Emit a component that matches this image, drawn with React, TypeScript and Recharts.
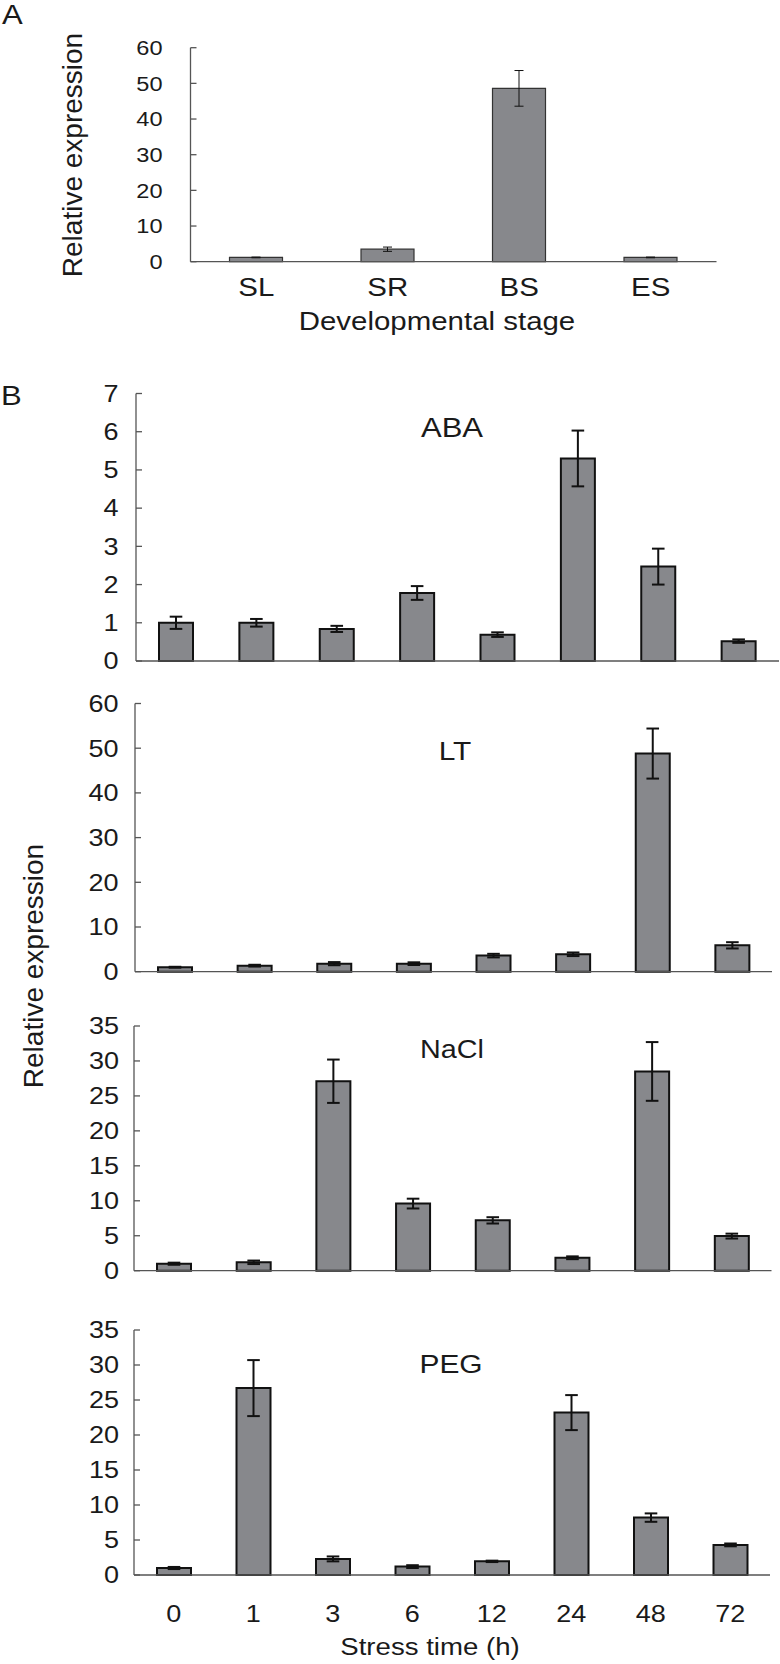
import React from "react";
import { BarChart, Bar, XAxis, YAxis, ErrorBar } from "recharts";

const FONT = "'Liberation Sans', Arial, sans-serif";
const INK = "#1a1a1a";
const AXIS = "#555555";
const FILL = "#87888c";
const SX = 1.15; // the original lettering is a little wider than Arial

// panel A: developmental stages
const stages = ["SL", "SR", "BS", "ES"];
const stageMean = [1.2, 3.5, 48.6, 1.2];
const stageErr = [0.1, 0.6, 5.0, 0.1];
const stageTicks = [0, 10, 20, 30, 40, 50, 60];

// panel B: stress time course
const hours = ["0", "1", "3", "6", "12", "24", "48", "72"];
const abaMean = [1.0, 1.0, 0.84, 1.78, 0.69, 5.3, 2.47, 0.52];
const abaErr = [0.16, 0.1, 0.08, 0.18, 0.06, 0.73, 0.47, 0.045];
const abaTicks = [0, 1, 2, 3, 4, 5, 6, 7];
const ltMean = [1.0, 1.35, 1.8, 1.8, 3.6, 3.9, 48.8, 5.9];
const ltErr = [0.1, 0.2, 0.35, 0.3, 0.4, 0.4, 5.6, 0.7];
const ltTicks = [0, 10, 20, 30, 40, 50, 60];
const naclMean = [1.0, 1.2, 27.1, 9.6, 7.2, 1.85, 28.5, 4.95];
const naclErr = [0.15, 0.25, 3.1, 0.7, 0.45, 0.2, 4.2, 0.35];
const naclTicks = [0, 5, 10, 15, 20, 25, 30, 35];
const pegMean = [1.0, 26.7, 2.3, 1.2, 1.95, 23.2, 8.2, 4.3];
const pegErr = [0.15, 4.0, 0.35, 0.2, 0.1, 2.5, 0.6, 0.2];
const pegTicks = [0, 5, 10, 15, 20, 25, 30, 35];

function Wide(props: { x: number; y: number; size: number; anchor?: string; dy?: string; children: React.ReactNode }) {
  return (
    <text
      transform={`translate(${props.x},${props.y}) scale(${SX},1)`}
      textAnchor={props.anchor || "middle"}
      dy={props.dy}
      fontSize={props.size}
      fill={INK}
      fontFamily={FONT}
    >
      {props.children}
    </text>
  );
}

type PanelProps = {
  labels: string[];
  mean: number[];
  err: number[];
  ticks: number[];
  top: number;
  height: number;
  plotTop: number;
  plotBottom: number;
  left: number;
  right: number;
  barSize: number;
  thin?: boolean;
  showLabels?: boolean;
  yFont: number;
  xFont: number;
  yMargin: number;
  xMargin: number;
  tickLen: number;
};

function Panel(p: PanelProps) {
  const data = p.labels.map((name, i) => ({ name, value: p.mean[i], err: p.err[i] }));
  const n = p.labels.length;
  const edges = p.labels.map((_, i) => i + 1);
  const lineW = p.thin ? 1 : 2;
  return (
    <div style={{ position: "absolute", left: 0, top: p.top }}>
      <BarChart
        width={780}
        height={p.height}
        data={data}
        margin={{
          top: p.plotTop - p.top,
          right: 780 - p.right,
          bottom: p.height - (p.plotBottom - p.top) - 2,
          left: 0,
        }}
      >
        <XAxis
          xAxisId="edge"
          type="number"
          domain={[0, n]}
          ticks={edges}
          interval={0}
          height={1}
          axisLine={false}
          tick={false}
          tickSize={-p.tickLen}
          tickLine={{ stroke: AXIS, strokeWidth: 1.3 }}
        />
        <XAxis
          xAxisId="cat"
          dataKey="name"
          height={1}
          interval={0}
          axisLine={{ stroke: AXIS, strokeWidth: 1.3 }}
          tickLine={false}
          tickSize={0}
          tickMargin={p.xMargin}
          tick={
            p.showLabels
              ? (t: any) => (
                  <Wide x={t.x} y={t.y} size={p.xFont} dy="0.71em">
                    {t.payload.value}
                  </Wide>
                )
              : false
          }
        />
        <YAxis
          width={p.left}
          domain={[0, p.ticks[p.ticks.length - 1]]}
          ticks={p.ticks}
          interval={0}
          tickSize={-6}
          tickMargin={p.yMargin}
          axisLine={{ stroke: AXIS, strokeWidth: 1.3 }}
          tickLine={{ stroke: AXIS, strokeWidth: 1.3 }}
          tick={(t: any) => (
            <Wide x={t.x} y={t.y} size={p.yFont} anchor="end" dy="0.355em">
              {t.payload.value}
            </Wide>
          )}
        />
        <Bar
          xAxisId="cat"
          dataKey="value"
          fill={FILL}
          stroke={p.thin ? "#333" : "#111"}
          strokeWidth={p.thin ? 1.2 : 2}
          barSize={p.barSize}
          isAnimationActive={false}
        >
          <ErrorBar
            dataKey="err"
            direction="y"
            width={p.thin ? 4.5 : 6.3}
            stroke="#111"
            strokeWidth={lineW}
            isAnimationActive={false}
          />
        </Bar>
      </BarChart>
    </div>
  );
}

export default function App() {
  return (
    <div style={{ position: "absolute", left: 0, top: 0, width: 780, height: 1664, background: "#fff" }}>
      <Panel
        labels={stages} mean={stageMean} err={stageErr} ticks={stageTicks}
        top={0} height={345} plotTop={47.7} plotBottom={261.7} left={190.5} right={716.5}
        barSize={53} thin showLabels yFont={20.5} xFont={25.6} yMargin={34} xMargin={16} tickLen={7}
      />
      <Panel
        labels={hours} mean={abaMean} err={abaErr} ticks={abaTicks}
        top={360} height={320} plotTop={393.5} plotBottom={661} left={136} right={779}
        barSize={34} yFont={23.5} xFont={23.5} yMargin={23.5} xMargin={30} tickLen={5}
      />
      <Panel
        labels={hours} mean={ltMean} err={ltErr} ticks={ltTicks}
        top={690} height={320} plotTop={703.5} plotBottom={971.7} left={135} right={772}
        barSize={34} yFont={23.5} xFont={23.5} yMargin={22.5} xMargin={30} tickLen={5}
      />
      <Panel
        labels={hours} mean={naclMean} err={naclErr} ticks={naclTicks}
        top={1010} height={300} plotTop={1026} plotBottom={1270.7} left={134} right={771.5}
        barSize={34} yFont={23.5} xFont={23.5} yMargin={21} xMargin={30} tickLen={5}
      />
      <Panel
        labels={hours} mean={pegMean} err={pegErr} ticks={pegTicks}
        top={1320} height={344} plotTop={1330} plotBottom={1575} left={134} right={770}
        barSize={34} showLabels yFont={23.5} xFont={23.5} yMargin={21} xMargin={30} tickLen={5}
      />
      <svg width={780} height={1664} style={{ position: "absolute", left: 0, top: 0, pointerEvents: "none" }}>
        <Wide x={2} y={24} size={27} anchor="start">A</Wide>
        <Wide x={1} y={405} size={27} anchor="start">B</Wide>
        <text transform="translate(72,155) rotate(-90)" textAnchor="middle" dominantBaseline="central" fontSize={28} fill={INK} fontFamily={FONT}>
          Relative expression
        </text>
        <Wide x={437} y={330} size={25.6}>Developmental stage</Wide>
        <text transform="translate(33,966) rotate(-90)" textAnchor="middle" dominantBaseline="central" fontSize={28} fill={INK} fontFamily={FONT}>
          Relative expression
        </text>
        <Wide x={452} y={437} size={27}>ABA</Wide>
        <Wide x={455} y={760} size={26}>LT</Wide>
        <Wide x={452} y={1058} size={25}>NaCl</Wide>
        <Wide x={451} y={1373} size={26}>PEG</Wide>
        <Wide x={430} y={1655} size={24}>Stress time (h)</Wide>
      </svg>
    </div>
  );
}
